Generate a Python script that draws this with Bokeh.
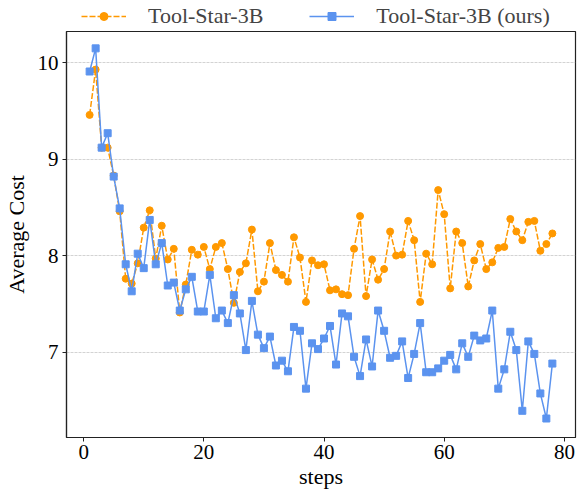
from bokeh.plotting import figure
from bokeh.layouts import column
from bokeh.models import Range1d, FixedTicker, Legend, LegendItem
from bokeh.embed import file_html
from bokeh.resources import INLINE

steps = list(range(1, 79))

tool_star = [9.46, 9.93, 9.12, 9.12, 8.83, 8.46, 7.76, 7.71, 7.92, 8.29,
             8.47, 7.97, 8.31, 7.96, 8.07, 7.41, 7.70, 8.06, 8.01, 8.09,
             7.86, 8.09, 8.13, 7.86, 7.51, 7.83, 7.92, 8.27, 7.63, 7.73,
             8.13, 7.85, 7.80, 7.73, 8.19, 7.98, 7.52, 7.95, 7.90, 7.91,
             7.64, 7.65, 7.60, 7.59, 8.07, 8.41, 7.58, 7.96, 7.75, 7.86,
             8.25, 8.00, 8.01, 8.36, 8.16, 7.52, 8.02, 7.91, 8.68, 8.43,
             7.66, 8.25, 8.13, 7.68, 7.95, 8.12, 7.86, 7.93, 8.08, 8.09,
             8.38, 8.25, 8.16, 8.35, 8.36, 8.05, 8.12, 8.23]

tool_star_ours = [9.91, 10.15, 9.12, 9.27, 8.82, 8.49, 7.91, 7.63, 8.02, 7.87,
                  8.37, 7.91, 8.13, 7.69, 7.72, 7.43, 7.65, 7.78, 7.42, 7.42,
                  7.80, 7.35, 7.43, 7.30, 7.59, 7.40, 7.02, 7.53, 7.18, 7.04,
                  7.16, 6.86, 6.91, 6.80, 7.26, 7.22, 6.62, 7.09, 7.03, 7.14,
                  7.27, 6.87, 7.40, 7.37, 6.95, 6.75, 7.13, 6.85, 7.43, 7.22,
                  6.94, 6.96, 7.11, 6.73, 6.98, 7.30, 6.79, 6.79, 6.83, 6.91,
                  6.97, 6.82, 7.09, 6.95, 7.17, 7.12, 7.14, 7.43, 6.62, 6.82,
                  7.21, 7.02, 6.39, 7.11, 6.98, 6.57, 6.31, 6.88]

x_ticks = [0, 20, 40, 60, 80]
y_ticks = [7, 8, 9, 10]
labels = ["Tool-Star-3B", "Tool-Star-3B (ours)"]

ORANGE = "#ff9900"
BLUE = "#5b93ef"
FONT = "Liberation Serif"
AX = "#222222"

# ---- main plot ----
p = figure(width=577, height=464, output_backend="svg", toolbar_location=None,
           x_range=Range1d(-2.85, 81.85), y_range=Range1d(6.113, 10.325),
           min_border_left=63, min_border_right=2, min_border_top=1,
           min_border_bottom=57)

p.outline_line_color = AX
p.outline_line_width = 1.2
p.background_fill_color = "white"
p.border_fill_color = "white"

p.xaxis.ticker = FixedTicker(ticks=x_ticks)
p.yaxis.ticker = FixedTicker(ticks=y_ticks)
for ax in (p.xaxis, p.yaxis):
    ax.axis_line_color = AX
    ax.axis_line_width = 1.2
    ax.major_tick_line_color = AX
    ax.major_tick_out = 4
    ax.major_tick_in = 0
    ax.minor_tick_line_color = None
    ax.major_label_text_font = FONT
    ax.major_label_text_font_size = "21px"
    ax.major_label_text_color = "black"
    ax.axis_label_text_font = FONT
    ax.axis_label_text_font_size = "22px"
    ax.axis_label_text_font_style = "normal"
    ax.axis_label_text_color = "black"

p.xaxis.axis_label = "steps"
p.yaxis.axis_label = "Average Cost"
p.xaxis.major_label_standoff = 3
p.xaxis.axis_label_standoff = 2
p.yaxis.major_label_standoff = 4
p.yaxis.axis_label_standoff = 6

p.xgrid.grid_line_color = None
p.ygrid.grid_line_color = "#b0b0b0"
p.ygrid.grid_line_alpha = 0.7
p.ygrid.grid_line_width = 0.8
p.ygrid.grid_line_dash = "3 1"

p.line(steps, tool_star, line_color=ORANGE, line_width=1.5, line_dash="6 2")
p.scatter(steps, tool_star, marker="circle", size=7, fill_color=ORANGE, line_color=ORANGE)
p.line(steps, tool_star_ours, line_color=BLUE, line_width=1.5)
p.scatter(steps, tool_star_ours, marker="square", size=7, fill_color=BLUE, line_color=BLUE)

# ---- legend strip above the plot (frames are aligned with the main plot) ----
lg = figure(width=577, height=30, output_backend="svg", toolbar_location=None,
            x_axis_type=None, y_axis_type=None,
            min_border_left=63, min_border_right=2, min_border_top=0,
            min_border_bottom=0,
            x_range=Range1d(-2.85, 81.85), y_range=Range1d(0, 1))
lg.outline_line_color = None
lg.xgrid.grid_line_color = None
lg.ygrid.grid_line_color = None
# same series drawn outside the strip's visible range; only used for legend glyphs
e1 = lg.line(steps, tool_star, line_color=ORANGE, line_width=1.5, line_dash="6 2")
e2 = lg.scatter(steps, tool_star, marker="circle", size=7, fill_color=ORANGE, line_color=ORANGE)
e3 = lg.line(steps, tool_star_ours, line_color=BLUE, line_width=1.5)
e4 = lg.scatter(steps, tool_star_ours, marker="square", size=7, fill_color=BLUE, line_color=BLUE)

legend = Legend(items=[LegendItem(label=labels[0], renderers=[e1, e2]),
                       LegendItem(label=labels[1], renderers=[e3, e4])],
                orientation="horizontal", location=(13, -1),
                label_text_font=FONT, label_text_font_size="22px",
                label_height=22,
                glyph_width=45, glyph_height=20, label_standoff=22, spacing=46,
                padding=2, margin=0, border_line_alpha=0,
                background_fill_alpha=0)
lg.add_layout(legend)

layout = column(lg, p, spacing=0)
open("out.html", "w").write(file_html(layout, INLINE))
